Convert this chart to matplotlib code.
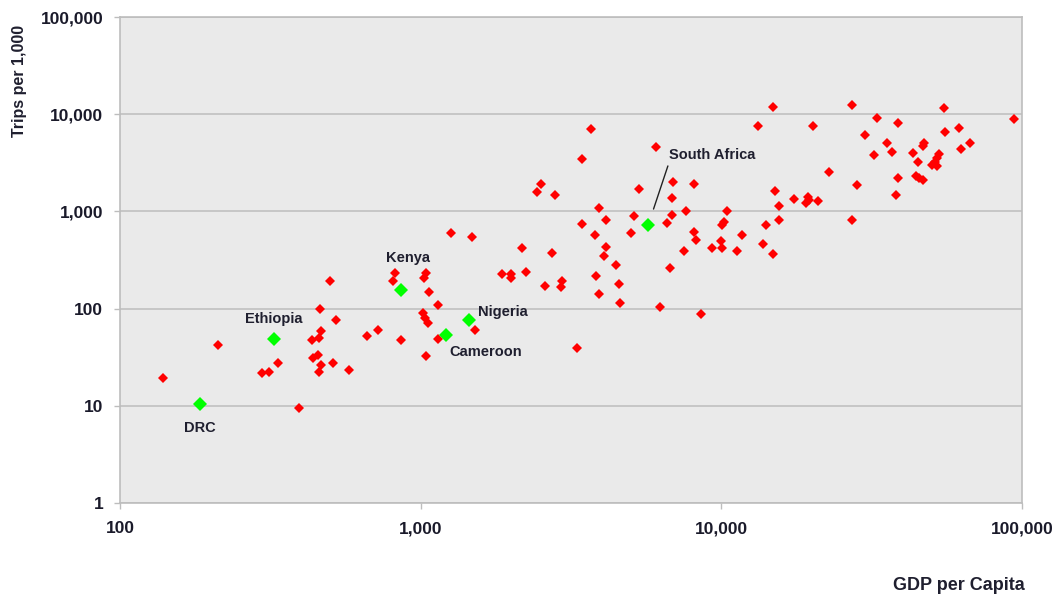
import matplotlib
matplotlib.use("Agg")
import matplotlib.pyplot as plt
from matplotlib.ticker import FixedLocator, FuncFormatter, NullLocator

plt.rcParams['font.family'] = ['Liberation Sans', 'DejaVu Sans']

# Other countries (GDP per capita, trips per 1,000)
gdp_other = [139, 212, 394, 296, 313, 336, 461, 498, 523, 466, 460, 435, 455, 439, 466, 460,
             510, 579, 661, 719, 860, 1041, 821, 811, 1041, 1028, 1068, 1016, 1033, 1055, 1139,
             1144, 1519, 2506, 2442, 2797, 5333, 6887, 8126, 3908, 3430, 4122, 5108, 6834, 6834,
             6607, 7606, 10464, 10200, 10070, 3799, 4993, 8126, 8233, 9970, 10070, 9330, 11290,
             7508, 4122, 4071, 4462, 6745, 1258, 1481, 2177, 2740, 1868, 1993, 1993, 2240, 2591,
             2958, 2922, 3820, 4566, 3908, 4611, 6249, 8531, 3317, 3676, 3430, 6047, 14810, 13260,
             15040, 17440, 15550, 15550, 14040, 11710, 13750, 14880, 27130, 54870, 20120, 32850,
             38660, 30030, 35450, 37020, 32170, 55410, 61660, 94200, 67110, 62500, 47300, 46710,
             43460, 45170, 53040, 52000, 51290, 50050, 52000, 22850, 28310, 38580, 38070, 44380,
             45500, 46710, 19110, 19450, 19610, 20960, 27130]
trips_other = [19.5, 41.9, 9.6, 21.7, 22.2, 27.5, 98.6, 192, 77, 58.9, 50.3, 47.2, 33.0, 31.0,
               26.2, 22.2, 27.7, 23.3, 51.9, 60.3, 47.2, 32.8, 234, 192, 231, 205, 149, 90.3, 80.9,
               71.1, 49.1, 108, 59.8, 1928, 1568, 1484, 1712, 1989, 1928, 1081, 745, 813, 907,
               1372, 922, 768, 998, 998, 786, 727, 573, 597, 620, 509, 497, 418, 418, 392, 392,
               434, 348, 281, 263, 597, 550, 418, 376, 225, 225, 205, 236, 172, 193, 165, 218,
               179, 140, 115, 104, 87.5, 39.3, 6966, 3470, 4617, 11950, 7536, 1605, 1340, 1124,
               819, 727, 573, 463, 365, 12330, 11480, 7536, 9204, 8091, 6040, 5077, 4128, 3816,
               6531, 7253, 8984, 5077, 4433, 5077, 4682, 4001, 3201, 3936, 3553, 3201, 3030, 2958,
               2523, 1883, 2188, 1473, 2293, 2208, 2086, 1218, 1405, 1318, 1287, 819]

# Highlighted African countries
hl_names = ['DRC', 'Ethiopia', 'Kenya', 'Cameroon', 'Nigeria', 'South Africa']
hl_gdp = [185, 326, 860, 1214, 1451, 5714]
hl_trips = [10.5, 48.6, 155, 53.1, 77, 727]

x_ticks = [100, 1000, 10000, 100000]
y_ticks = [1, 10, 100, 1000, 10000, 100000]

fig = plt.figure(figsize=(10.58, 5.96), dpi=100)
ax = fig.add_axes([120 / 1058, 1 - 503 / 596, (1022 - 120) / 1058, (503 - 17) / 596])
ax.set_facecolor('#EAEAEA')

ax.set_xscale('log')
ax.set_yscale('log')
ax.set_xlim(100, 100000)
ax.set_ylim(1, 100000)

fmt = FuncFormatter(lambda v, p: f'{int(round(v)):,}')
ax.xaxis.set_major_locator(FixedLocator(x_ticks))
ax.yaxis.set_major_locator(FixedLocator(y_ticks))
ax.xaxis.set_minor_locator(NullLocator())
ax.yaxis.set_minor_locator(NullLocator())
ax.xaxis.set_major_formatter(fmt)
ax.yaxis.set_major_formatter(fmt)

ax.yaxis.grid(True, color='#C4C4C4', linewidth=1.3)
ax.xaxis.grid(False)
ax.set_axisbelow(True)

for s in ['left', 'bottom', 'right', 'top']:
    ax.spines[s].set_color('#BDBDBD')
    ax.spines[s].set_linewidth(1.2)

ax.tick_params(axis='both', which='major', length=4, width=1, color='#BDBDBD',
               labelsize=12.5, labelcolor='#1A1A2A')
ax.tick_params(axis='x', pad=9)
ax.tick_params(axis='y', pad=8)
for lab in ax.get_xticklabels() + ax.get_yticklabels():
    lab.set_fontweight('bold')

ax.plot(gdp_other, trips_other, linestyle='none', marker='D', ms=4.8, mew=0,
        color='#FF0000', zorder=3, clip_on=False)
ax.plot(hl_gdp, hl_trips, linestyle='none', marker='D', ms=7.6, mew=0,
        color='#00FF00', zorder=4, clip_on=False)

tcol = '#1F1F2F'
offsets = {
    'DRC': ((0, -24), 'center'),
    'Ethiopia': ((-1, 20), 'center'),
    'Kenya': ((7, 32), 'center'),
    'Cameroon': ((3, -17), 'left'),
    'Nigeria': ((9, 8), 'left'),
}
for name, gx, ty in zip(hl_names, hl_gdp, hl_trips):
    if name in offsets:
        (dx, dy), ha = offsets[name]
        ax.annotate(name, (gx, ty), xytext=(dx, dy), textcoords='offset pixels',
                    ha=ha, va='center', fontsize=10.5, fontweight='bold', color=tcol,
                    zorder=5)
    else:
        ax.annotate(name, (gx, ty), xytext=(21, 70), textcoords='offset pixels',
                    ha='left', va='center', fontsize=10.5, fontweight='bold', color=tcol,
                    zorder=5,
                    arrowprops=dict(arrowstyle='-', color='#222222', lw=1.0,
                                    relpos=(0, 0), shrinkA=1, shrinkB=12))

fig.text(20 / 1058, 1 - 81 / 596, 'Trips per 1,000', rotation=90, ha='center', va='center',
         fontsize=11.5, fontweight='bold', color=tcol)
fig.text(959 / 1058, 1 - 585 / 596, 'GDP per Capita', ha='center', va='center',
         fontsize=13, fontweight='bold', color=tcol)

fig.savefig('out.png', dpi=100)
